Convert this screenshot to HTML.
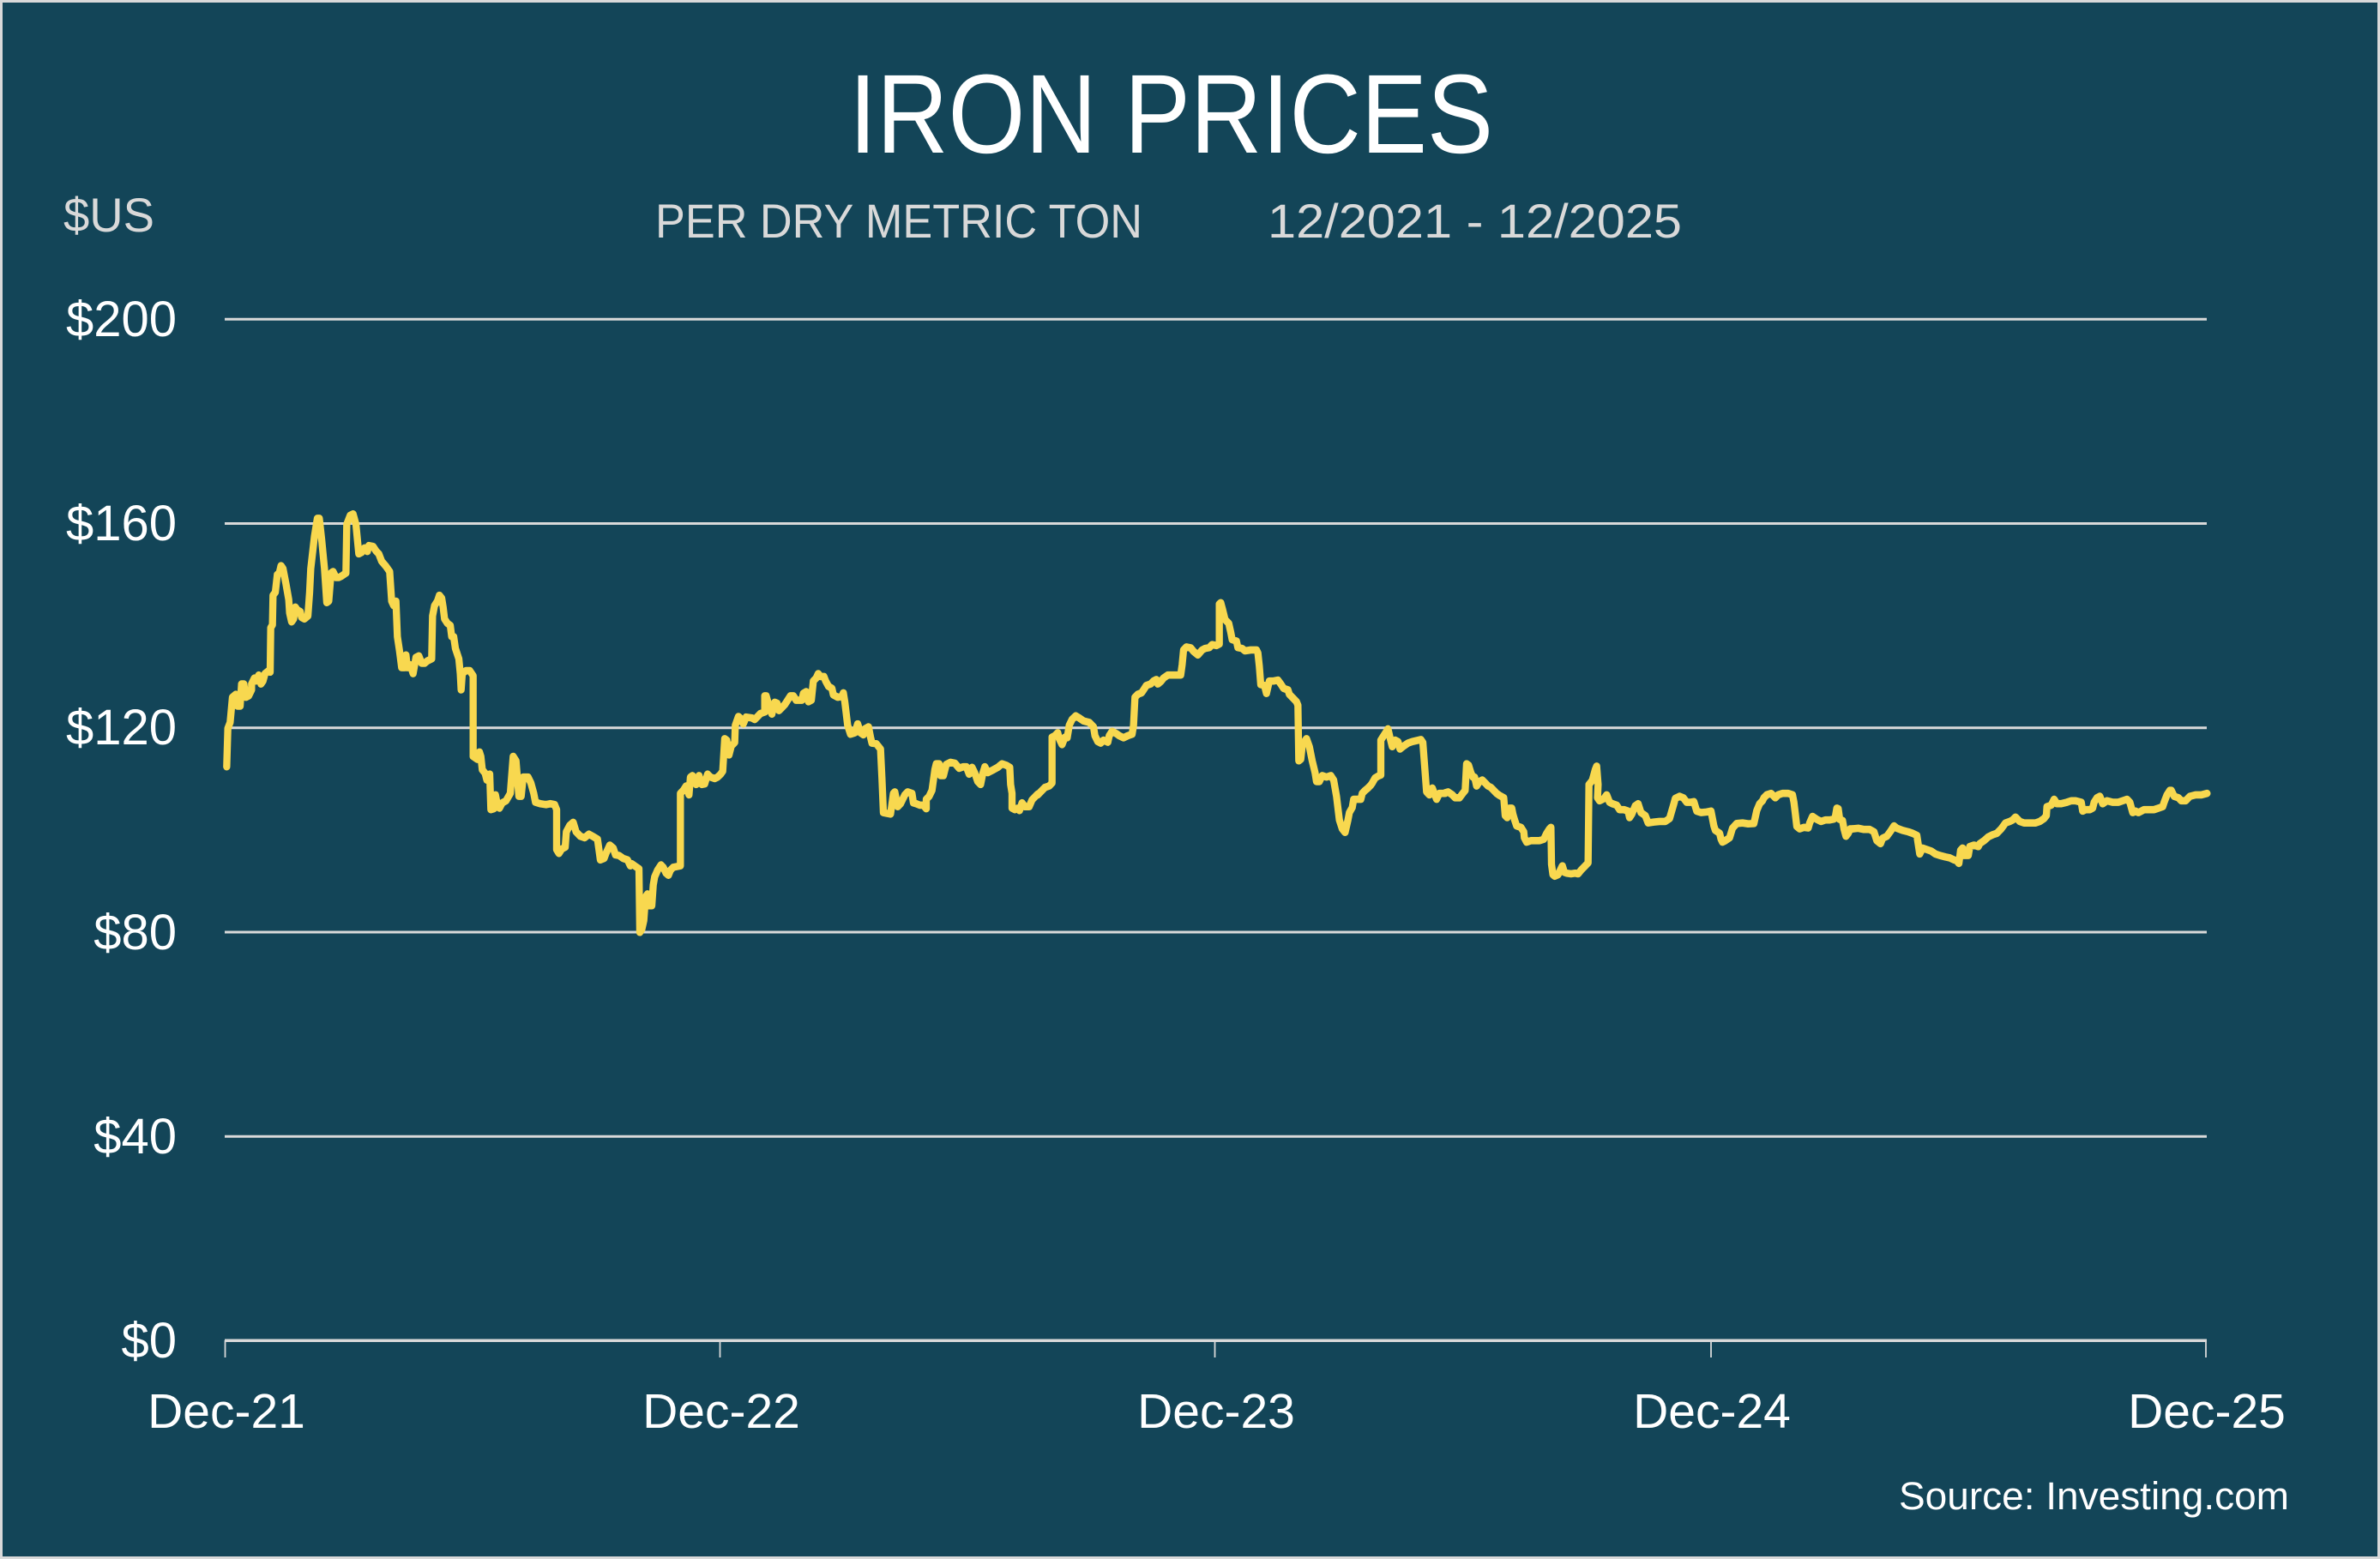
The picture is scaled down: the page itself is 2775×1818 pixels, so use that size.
<!DOCTYPE html>
<html>
<head>
<meta charset="utf-8">
<style>
html,body{margin:0;padding:0;background:#134558;}
svg{display:block;}
</style>
</head>
<body>
<svg width="2775" height="1818" viewBox="0 0 2775 1818" xmlns="http://www.w3.org/2000/svg">
  <rect x="0" y="0" width="2775" height="1818" fill="#d9d9d9"/>
  <rect x="3" y="3" width="2769" height="1812" fill="#134558"/>

  <!-- title -->
  <text x="990" y="178" font-family="Liberation Sans, sans-serif" font-size="131" fill="#ffffff" textLength="751" lengthAdjust="spacingAndGlyphs">IRON PRICES</text>
  <text x="74" y="270" font-family="Liberation Sans, sans-serif" font-size="56" fill="#d9d9d9" textLength="106" lengthAdjust="spacingAndGlyphs">$US</text>
  <text x="764" y="277" font-family="Liberation Sans, sans-serif" font-size="56" fill="#d9d9d9" textLength="568" lengthAdjust="spacingAndGlyphs">PER DRY METRIC TON</text>
  <text x="1478" y="277" font-family="Liberation Sans, sans-serif" font-size="56" fill="#d9d9d9" textLength="483" lengthAdjust="spacingAndGlyphs">12/2021 - 12/2025</text>

  <!-- gridlines -->
  <g stroke="#d9d9d9" stroke-width="3">
    <line x1="262" y1="372.3" x2="2573" y2="372.3"/>
    <line x1="262" y1="610.5" x2="2573" y2="610.5"/>
    <line x1="262" y1="848.8" x2="2573" y2="848.8"/>
    <line x1="262" y1="1087" x2="2573" y2="1087"/>
    <line x1="262" y1="1325.3" x2="2573" y2="1325.3"/>
    <line x1="262" y1="1563.3" x2="2573" y2="1563.3" stroke-width="3.5"/>
  </g>
  <g stroke="#d9d9d9" stroke-width="1.8">
    <line x1="262.5" y1="1563" x2="262.5" y2="1583"/>
    <line x1="839.5" y1="1563" x2="839.5" y2="1583"/>
    <line x1="1416.5" y1="1563" x2="1416.5" y2="1583"/>
    <line x1="1995" y1="1563" x2="1995" y2="1583"/>
    <line x1="2572" y1="1563" x2="2572" y2="1583"/>
  </g>

  <!-- y labels -->
  <g font-family="Liberation Sans, sans-serif" font-size="58" fill="#ffffff" text-anchor="end">
    <text x="206" y="392">$200</text>
    <text x="206" y="630">$160</text>
    <text x="206" y="868">$120</text>
    <text x="206" y="1107">$80</text>
    <text x="206" y="1345">$40</text>
    <text x="206" y="1583">$0</text>
  </g>

  <!-- x labels -->
  <g font-family="Liberation Sans, sans-serif" font-size="57" fill="#ffffff" text-anchor="middle">
    <text x="264" y="1665">Dec-21</text>
    <text x="841" y="1665">Dec-22</text>
    <text x="1418" y="1665">Dec-23</text>
    <text x="1996" y="1665">Dec-24</text>
    <text x="2573" y="1665">Dec-25</text>
  </g>

  <text x="2214" y="1760" font-family="Liberation Sans, sans-serif" font-size="45" fill="#ffffff" textLength="455" lengthAdjust="spacingAndGlyphs">Source: Investing.com</text>

  <!-- data series -->
  <g fill="none" stroke="#f8d84f" stroke-width="25" stroke-linejoin="round" stroke-linecap="round">
    <path transform="translate(255 570) scale(0.333333 0.344828)" d="M28,940 L32,810 40,790 48,705 60,695 66,735 75,735 80,660 88,660 95,705 105,700 115,680 115,660 125,640 130,650 140,630 148,660 155,650 162,625 175,615 180,620 182,470 188,460 190,360 198,350 205,290 212,285 218,260 225,270 235,320 245,375 248,420 255,450 262,440 268,400 275,410 285,415 290,435 300,440 312,430 318,350 322,270 335,160 345,100 352,100 360,170 370,270 378,385 385,380 393,285 400,280 410,300 420,300 430,295 445,285 448,120 460,90 470,85 480,120 490,220 500,215 510,200 520,212 525,192 540,195 550,210 560,220 570,245 585,262 598,280 605,380 612,395 620,380 625,500 632,545 640,605 650,605 655,562 660,605 670,595 680,625 690,570 700,565 710,590 720,590 730,582 745,575 748,430 755,395 765,380 772,360 780,370 785,400 790,440 800,455 810,462 815,500 822,500 828,540 840,575 845,625 848,680 852,625 865,615 878,615 890,632 890,905 905,915 912,890 917,905 922,950 932,962 938,985 948,965 952,1085 962,1082 968,1035 975,1070 982,1080 992,1062 1005,1055 1020,1030 1030,905 1040,920 1045,980 1050,1040 1058,1040 1065,975 1082,975 1092,995 1102,1030 1108,1060 1125,1065 1145,1068 1160,1065 1175,1068 1182,1085 1182,1220 1190,1233 1200,1218 1212,1212 1216,1160 1228,1138 1240,1128 1250,1160 1265,1175 1280,1180 1295,1168 1310,1176 1325,1185 1335,1255 1348,1250 1355,1232 1368,1205 1380,1215 1388,1238 1400,1240 1415,1250 1430,1255 1440,1275"/>
    <path transform="translate(730 570) scale(0.333333 0.344828)" d="M20,1268 L30,1275 45,1285 48,1500 55,1490 62,1460 68,1380 75,1370 80,1410 90,1410 95,1340 100,1312 110,1290 122,1272 130,1280 140,1300 148,1307 155,1290 165,1280 175,1278 190,1275 190,1030 200,1020 210,1005 220,1035 225,975 232,970 245,1000 255,970 265,1000 275,998 285,965 295,975 310,980 320,975 330,966 338,955 345,845 352,850 360,900 368,870 380,858 382,800 393,770 402,778 410,795 420,772 440,775 450,780 460,770 470,760 485,755 485,700 490,700 500,735 510,762 520,722 528,725 535,750 545,740 555,730 575,700 585,700 595,715 615,715 620,692 630,686 638,720 648,715 655,650 665,640 672,625 680,635 692,635 698,650 708,668 720,675 725,697 740,705 755,702 760,690 765,720 775,800 785,830 800,825 810,795 820,825 830,832 835,812 848,805 855,840 860,860 875,862 890,880 895,980 900,1095 915,1098 925,1100 935,1030 940,1025 950,1075 960,1065 975,1035 985,1025 1000,1030 1005,1062 1015,1065 1028,1070 1040,1070 1050,1082 1050,1050 1060,1040 1070,1020 1080,950 1085,930 1095,930 1100,970 1110,970 1120,932 1135,925 1150,928 1165,945 1180,940 1190,940 1200,965 1210,942 1220,962 1230,990 1240,1000 1248,962 1255,940 1265,960 1285,950 1300,942 1315,930 1330,935 1342,942 1345,1000 1350,1030 1350,1080 1360,1085 1370,1080 1376,1088 1385,1062 1395,1075 1410,1075 1420,1052 1440,1032"/>
    <path transform="translate(1205 570) scale(0.333333 0.344828)" d="M15,1035 L25,1025 40,1010 55,1005 65,995 65,840 75,835 85,825 90,845 100,865 110,840 118,842 125,800 135,780 148,768 160,775 175,785 195,790 210,805 215,835 225,855 235,860 245,850 260,857 265,835 275,820 290,828 300,835 315,842 330,835 345,830 350,800 355,705 365,695 378,690 385,680 395,665 410,660 420,650 430,645 435,660 445,652 455,640 470,630 500,630 515,630 520,595 525,545 535,535 550,538 560,550 575,562 590,545 600,540 615,537 625,527 640,530 650,525 650,390 655,385 662,410 670,442 683,455 690,485 695,510 710,515 715,537 730,540 740,548 760,545 780,545 785,555 790,600 795,662 808,665 815,692 825,650 840,650 855,647 865,660 875,675 890,680 895,695 910,710 920,720 925,732 928,920 935,915 940,870 948,855 955,845 965,872 975,920 985,960 990,990 1000,990 1010,970 1025,975 1040,970 1050,985 1060,1040 1070,1120 1080,1150 1090,1162 1100,1120 1105,1095 1115,1078 1120,1050 1130,1050 1145,1050 1150,1030 1160,1020 1170,1012 1180,1002 1185,995 1195,978 1205,972 1215,968 1215,850 1225,835 1235,820 1240,812 1248,845 1255,872 1265,850 1275,855 1282,880 1295,870 1310,860 1325,855 1355,848 1362,858 1370,960 1375,1025 1385,1035 1395,1012 1400,1025 1410,1050 1420,1030 1440,1030"/>
    <path transform="translate(1680 570) scale(0.333333 0.344828)" d="M15,1028 L25,1025 40,1035 50,1045 65,1045 75,1032 85,1020 90,930 97,935 105,960 112,975 118,975 125,1005 135,990 145,985 155,995 165,1005 175,1010 185,1020 195,1030 205,1037 220,1045 225,1105 232,1112 240,1080 248,1080 252,1100 258,1120 265,1140 280,1145 290,1160 292,1180 300,1195 315,1190 330,1190 345,1190 360,1185 370,1165 380,1150 385,1145 387,1270 392,1305 398,1310 410,1305 425,1275 432,1297 440,1300 455,1302 470,1300 480,1302 490,1290 505,1275 515,1265 518,1000 525,992 530,985 540,950 545,938 550,1000 548,1045 555,1055 570,1048 580,1035 590,1060 600,1065 615,1070 625,1085 640,1085 655,1090 660,1112 668,1100 680,1072 690,1065 700,1095 715,1105 725,1130 745,1127 765,1125 785,1125 800,1115 815,1065 820,1047 835,1040 848,1045 860,1060 875,1060 885,1058 895,1090 910,1095 930,1093 945,1090 955,1140 960,1155 975,1165 980,1185 985,1195 995,1190 1010,1180 1020,1148 1035,1132 1055,1130 1075,1133 1095,1132 1105,1088 1115,1065 1125,1055 1130,1045 1140,1035 1155,1030 1170,1045 1180,1035 1195,1030 1215,1030 1230,1035 1235,1060 1240,1100 1245,1142 1255,1150 1270,1145 1285,1147 1290,1130 1300,1108 1315,1118 1330,1125 1345,1120 1360,1120 1375,1117 1380,1108 1385,1080 1390,1082 1395,1118 1405,1122 1410,1150 1417,1175 1425,1165 1432,1150 1440,1150"/>
    <path transform="translate(2140 570) scale(0.333333 0.344828)" d="M60,1150 L80,1148 100,1152 120,1152 135,1160 145,1190 158,1200 165,1182 180,1175 195,1155 205,1140 215,1148 235,1155 255,1160 270,1165 285,1172 295,1235 305,1215 320,1220 335,1225 350,1235 365,1240 385,1245 400,1248 415,1255 425,1258 432,1267 438,1222 445,1215 450,1240 465,1240 470,1210 485,1205 500,1210 505,1200 520,1190 535,1177 550,1170 565,1165 580,1150 595,1130 610,1125 620,1120 630,1110 645,1125 660,1130 680,1130 700,1130 715,1125 730,1115 738,1105 740,1075 755,1070 765,1050 775,1065 790,1065 810,1060 825,1055 840,1055 860,1060 865,1090 875,1085 890,1085 900,1080 905,1060 915,1045 925,1040 935,1065 950,1055 970,1060 990,1060 1005,1055 1020,1050 1030,1060 1040,1095 1050,1090 1060,1095 1080,1085 1100,1085 1115,1085 1130,1080 1145,1075 1150,1060 1160,1035 1170,1020 1175,1020 1185,1040 1200,1045 1210,1055 1225,1055 1240,1040 1260,1035 1280,1035 1300,1030"/>
  </g>
</svg>
</body>
</html>
